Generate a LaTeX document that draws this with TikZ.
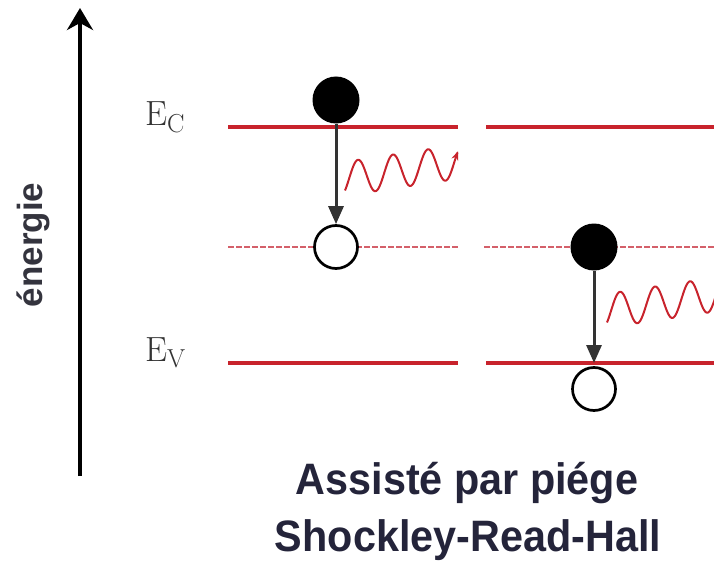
\documentclass[tikz,border=0pt]{standalone}
\usepackage{fontspec}
\newfontfamily\sansfont{Liberation Sans}
\usetikzlibrary{arrows.meta}
\definecolor{bandred}{HTML}{C8232C}
\definecolor{trapred}{HTML}{D4606A}
\definecolor{txtdark}{HTML}{24243A}
\definecolor{axgray}{HTML}{34343E}
\tikzset{
  band/.style={draw=bandred, line width=3.5pt},
  trap/.style={draw=trapred, line width=2.5pt, dash pattern=on 5.5pt off 2.5pt},
  elec/.style={circle, fill=black, minimum size=47pt, inner sep=0pt},
  hole/.style={circle, draw=black, line width=2.7pt, fill=white, minimum size=43pt, inner sep=0pt},
  trans/.style={draw=black!80, line width=3pt, -{Triangle[length=18pt,width=15pt]}},
  photon/.style={draw=bandred, line width=2pt, -{Stealth[length=9pt,width=7pt]}},
  axisarrow/.style={draw=black, line width=3.5pt, -{Stealth[length=22pt,width=26pt,inset=7pt]}},
  lvl/.style={anchor=base west, inner sep=0pt, text=black!80, font=\fontsize{35}{40}\selectfont},
  title/.style={anchor=base, inner sep=0pt, text=txtdark, xscale=0.94, font=\sansfont\bfseries\fontsize{44}{50}\selectfont}
}
\begin{document}
\begin{tikzpicture}[x=1pt,y=-1pt]
\useasboundingbox (0,0) rectangle (714,567);
\clip (0,0) rectangle (714,567);
% energy axis
\coordinate (axb) at (80,476);
\coordinate (axt) at (80,8);
\draw[axisarrow] (axb) -- (axt);
\node[rotate=90, anchor=base, inner sep=0pt, text=axgray, font=\sansfont\bfseries\fontsize{35}{40}\selectfont] (en) at (42,245) {énergie};
% level labels
\node[lvl] (ec) at (145,125) {E\raisebox{-7pt}{\fontsize{26}{26}\selectfont C}};
\node[lvl] (ev) at (145,361) {E\raisebox{-6pt}{\fontsize{26}{26}\selectfont V}};
% bands
\draw[band] (228,127) -- (458,127);
\draw[band] (486,127) -- (720,127);
\draw[trap] (228,247) -- (458,247);
\draw[trap] (484,247) -- (720,247);
\draw[band] (228,363) -- (458,363);
\draw[band] (486,363) -- (720,363);
% left process
\node[elec] (e1) at (336,100) {};
\node[hole] (h1) at (336,247) {};
\draw[trans] (e1.south) -- (h1.north);
\draw[photon] plot[domain=345:458, samples=150, smooth] (\x, {178-0.15*(\x-350) - 17*sin(10.2857*(\x-349.25))});
% right process
\node[elec] (e2) at (594,247) {};
\node[hole] (h2) at (594,389) {};
\coordinate (v2) at (594,363);
\draw[trans] (e2.south) -- (v2);
\draw[draw=bandred, line width=2pt] plot[domain=607:720, samples=150, smooth] (\x, {310-0.15*(\x-612) - 17*sin(10.2857*(\x-611.25))});
% titles
\node[title] (t1) at (467,494) {Assisté par piége};
\node[title] (t2) at (468,551) {Shockley-Read-Hall};
\end{tikzpicture}
\end{document}
